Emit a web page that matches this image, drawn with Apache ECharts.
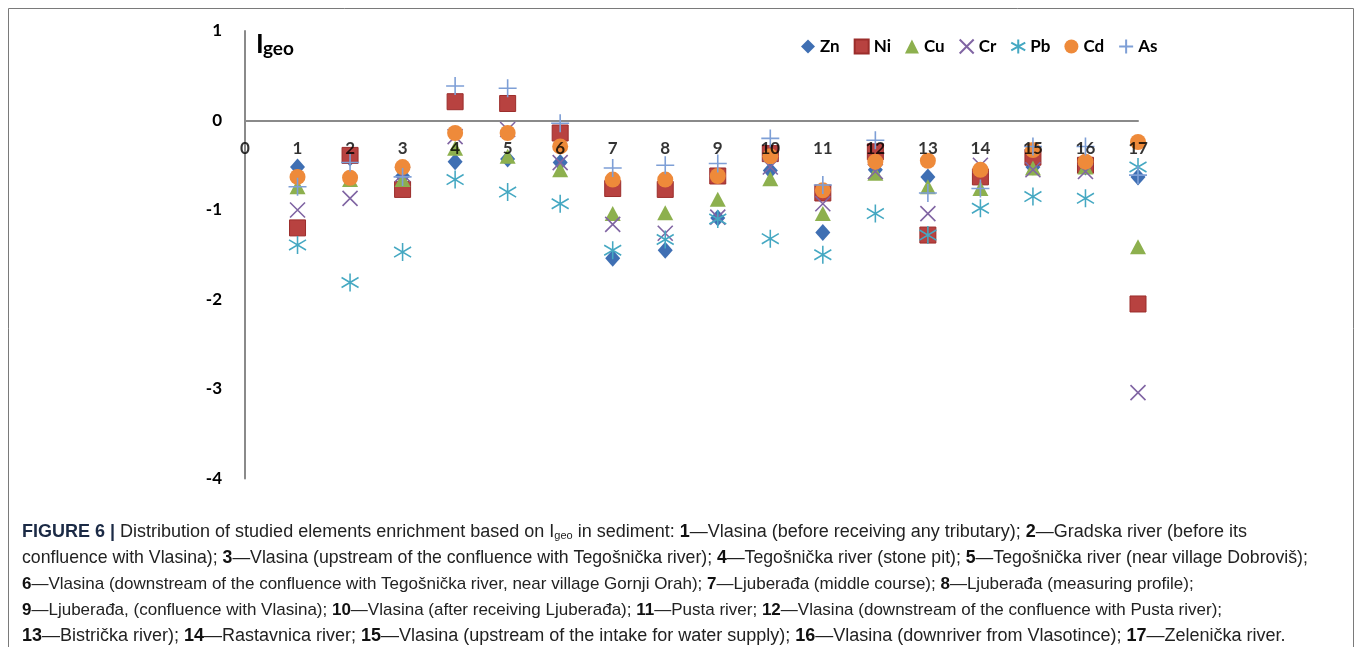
<!DOCTYPE html>
<html>
<head>
<meta charset="utf-8">
<script src="https://cdn.jsdelivr.net/npm/echarts@6/dist/echarts.min.js"></script>
<style>
  html, body { margin: 0; padding: 0; background: #fff; }
  #chart { width: 1356px; height: 647px; }
</style>
</head>
<body>
<div id="chart"></div>
<script>
// sampling sites 1..17
const sites = [1, 2, 3, 4, 5, 6, 7, 8, 9, 10, 11, 12, 13, 14, 15, 16, 17];
const xTicks = [0, 1, 2, 3, 4, 5, 6, 7, 8, 9, 10, 11, 12, 13, 14, 15, 16, 17];
const yTicks = [1, 0, -1, -2, -3, -4];

// Igeo values
const zn = [-0.52, -0.42, -0.62, -0.46, -0.43, -0.47, -1.54, -1.45, -1.09, -0.56, -1.25, -0.55, -0.63, -0.64, -0.52, -0.52, -0.63];
const ni = [-1.20, -0.39, -0.77, 0.21, 0.19, -0.14, -0.76, -0.77, -0.62, -0.37, -0.81, -0.35, -1.28, -0.63, -0.41, -0.50, -2.05];
const cu = [-0.74, -0.66, -0.66, -0.31, -0.40, -0.55, -1.04, -1.03, -0.88, -0.65, -1.04, -0.59, -0.74, -0.76, -0.53, -0.52, -1.41];
const cr = [-1.00, -0.87, -0.60, -0.18, -0.10, -0.47, -1.16, -1.26, -1.08, -0.52, -0.93, -0.57, -1.04, -0.50, -0.55, -0.57, -3.04];
const pb = [-1.39, -1.81, -1.47, -0.66, -0.80, -0.93, -1.45, -1.33, -1.10, -1.32, -1.50, -1.04, -1.28, -0.98, -0.85, -0.87, -0.52];
const cd = [-0.63, -0.64, -0.52, -0.14, -0.14, -0.29, -0.66, -0.66, -0.62, -0.40, -0.78, -0.46, -0.45, -0.55, -0.33, -0.46, -0.24];
const as = [-0.74, -0.47, -0.63, 0.385, 0.36, -0.03, -0.53, -0.50, -0.48, -0.20, -0.72, -0.22, -0.81, -0.76, -0.29, -0.29, -0.61];

const CROSS = 'path://M0,0L10,10M10,0L0,10';
const STAR = 'path://M5,0L5,10M0,2.2L10,7.8M0,7.8L10,2.2';
const PLUS = 'path://M5,0L5,10M0,5L10,5';

const pairs = (vals) => sites.map((s, i) => [s, vals[i]]);

const filled = (name, vals, symbol, size, color, border) => ({
  name,
  type: 'scatter',
  data: pairs(vals),
  symbol,
  symbolSize: size,
  itemStyle: { color, borderColor: border || color, borderWidth: border ? 1 : 0, opacity: 1 },
});

const stroked = (name, vals, symbol, size, color) => ({
  name,
  type: 'scatter',
  data: pairs(vals),
  symbol,
  symbolSize: size,
  itemStyle: { color: 'rgba(0,0,0,0)', borderColor: color, borderWidth: 1.6, opacity: 1 },
});

const sans = '"Liberation Sans", Arial, sans-serif';

const caption = [
  '{f|FIGURE 6 |} Distribution of studied elements enrichment based on I{s|geo} in sediment: {b|1}—Vlasina (before receiving any tributary); {b|2}—Gradska river (before its',
  'confluence with Vlasina); {b|3}—Vlasina (upstream of the confluence with Tegošnička river); {b|4}—Tegošnička river (stone pit); {b|5}—Tegošnička river (near village Dobroviš);',
  '{b|6}—Vlasina (downstream of the confluence with Tegošnička river, near village Gornji Orah); {b|7}—Ljuberađa (middle course); {b|8}—Ljuberađa (measuring profile);',
  '{b|9}—Ljuberađa, (confluence with Vlasina); {b|10}—Vlasina (after receiving Ljuberađa); {b|11}—Pusta river; {b|12}—Vlasina (downstream of the confluence with Pusta river);',
  '{b|13}—Bistrička river); {b|14}—Rastavnica river; {b|15}—Vlasina (upstream of the intake for water supply); {b|16}—Vlasina (downriver from Vlasotince); {b|17}—Zelenička river.',
];
// the original caption face is condensed, so each line gets its own size to keep its length
const captionSizes = [18, 17.7, 17, 17, 18];

const captionGraphics = caption.map((line, i) => {
  const fs = captionSizes[i];
  return {
    type: 'text',
    left: 22,
    top: 523 + i * 26 + (18 - fs) / 2,
    style: {
      text: line,
      fill: '#222',
      font: `${fs}px ${sans}`,
      rich: {
        f: { fontFamily: sans, fontSize: fs, fontWeight: 'bold', fill: '#1b2a45' },
        b: { fontFamily: sans, fontSize: fs, fontWeight: 'bold', fill: '#111' },
        s: { fontFamily: sans, fontSize: 11, fill: '#222', padding: [8, 0, 0, 0] },
      },
    },
  };
});

const chartDom = document.getElementById('chart');
const myChart = echarts.init(chartDom);

const option = {
  animation: false,
  backgroundColor: '#fff',
  grid: { left: 245, right: 218, top: 31, bottom: 168.5 },
  legend: {
    left: 796,
    top: 33,
    itemWidth: 14,
    itemHeight: 14,
    itemGap: 14,
    textStyle: { fontFamily: 'Lato', fontWeight: 'bold', fontSize: 17, color: '#000' },
    data: ['Zn', 'Ni', 'Cu', 'Cr', 'Pb', 'Cd', 'As'],
  },
  xAxis: {
    type: 'value',
    min: 0,
    max: 17,
    interval: 1,
    splitLine: { show: false },
    axisTick: { show: false },
    axisLabel: { show: false },
    axisLine: { onZero: true, lineStyle: { color: '#8a8a8a', width: 2 } },
  },
  yAxis: {
    type: 'value',
    min: -4,
    max: 1,
    interval: 1,
    splitLine: { show: false },
    axisTick: { show: false },
    axisLine: { show: true, onZero: false, lineStyle: { color: '#8a8a8a', width: 2 } },
    axisLabel: {
      margin: 23,
      color: '#000',
      fontFamily: 'Lato',
      fontWeight: 'bold',
      fontSize: 17,
      formatter: (v) => (yTicks.includes(v) ? String(v) : ''),
    },
  },
  graphic: [
    {
      type: 'rect',
      shape: { x: 8.5, y: 8.5, width: 1345, height: 660 },
      style: { fill: 'none', stroke: '#7a7a7a', lineWidth: 1 },
      silent: true,
    },
    {
      type: 'text',
      left: 256,
      top: 32,
      style: { text: 'I', font: 'bold 26px Lato', fill: '#000' },
    },
    {
      type: 'text',
      left: 263,
      top: 39,
      style: { text: 'geo', font: 'bold 19px Lato', fill: '#000' },
    },
    ...captionGraphics,
  ],
  series: [
    filled('Zn', zn, 'diamond', [15, 17], '#3f6fb3'),
    filled('Ni', ni, 'rect', 16, '#b84240', '#9b2d2b'),
    filled('Cu', cu, 'triangle', [16, 15], '#8db04e'),
    stroked('Cr', cr, CROSS, 15, '#8065a3'),
    stroked('Pb', pb, STAR, [17, 18], '#45a8c2'),
    filled('Cd', cd, 'circle', 16, '#ee8a3a'),
    stroked('As', as, PLUS, 18, '#7e9fd6'),
    {
      // category numbers sit just under the zero line
      name: 'ticks',
      type: 'scatter',
      data: xTicks.map((v) => [v, 0]),
      symbolSize: 0,
      silent: true,
      z: 10,
      label: {
        show: true,
        position: 'bottom',
        distance: 20,
        formatter: (p) => String(p.value[0]),
        color: '#000',
        fontFamily: 'Lato',
        fontWeight: 'bold',
        fontSize: 17,
      },
    },
  ],
};

myChart.setOption(option);

window.addEventListener('resize', function () {
  myChart.resize();
});
</script>
</body>
</html>
